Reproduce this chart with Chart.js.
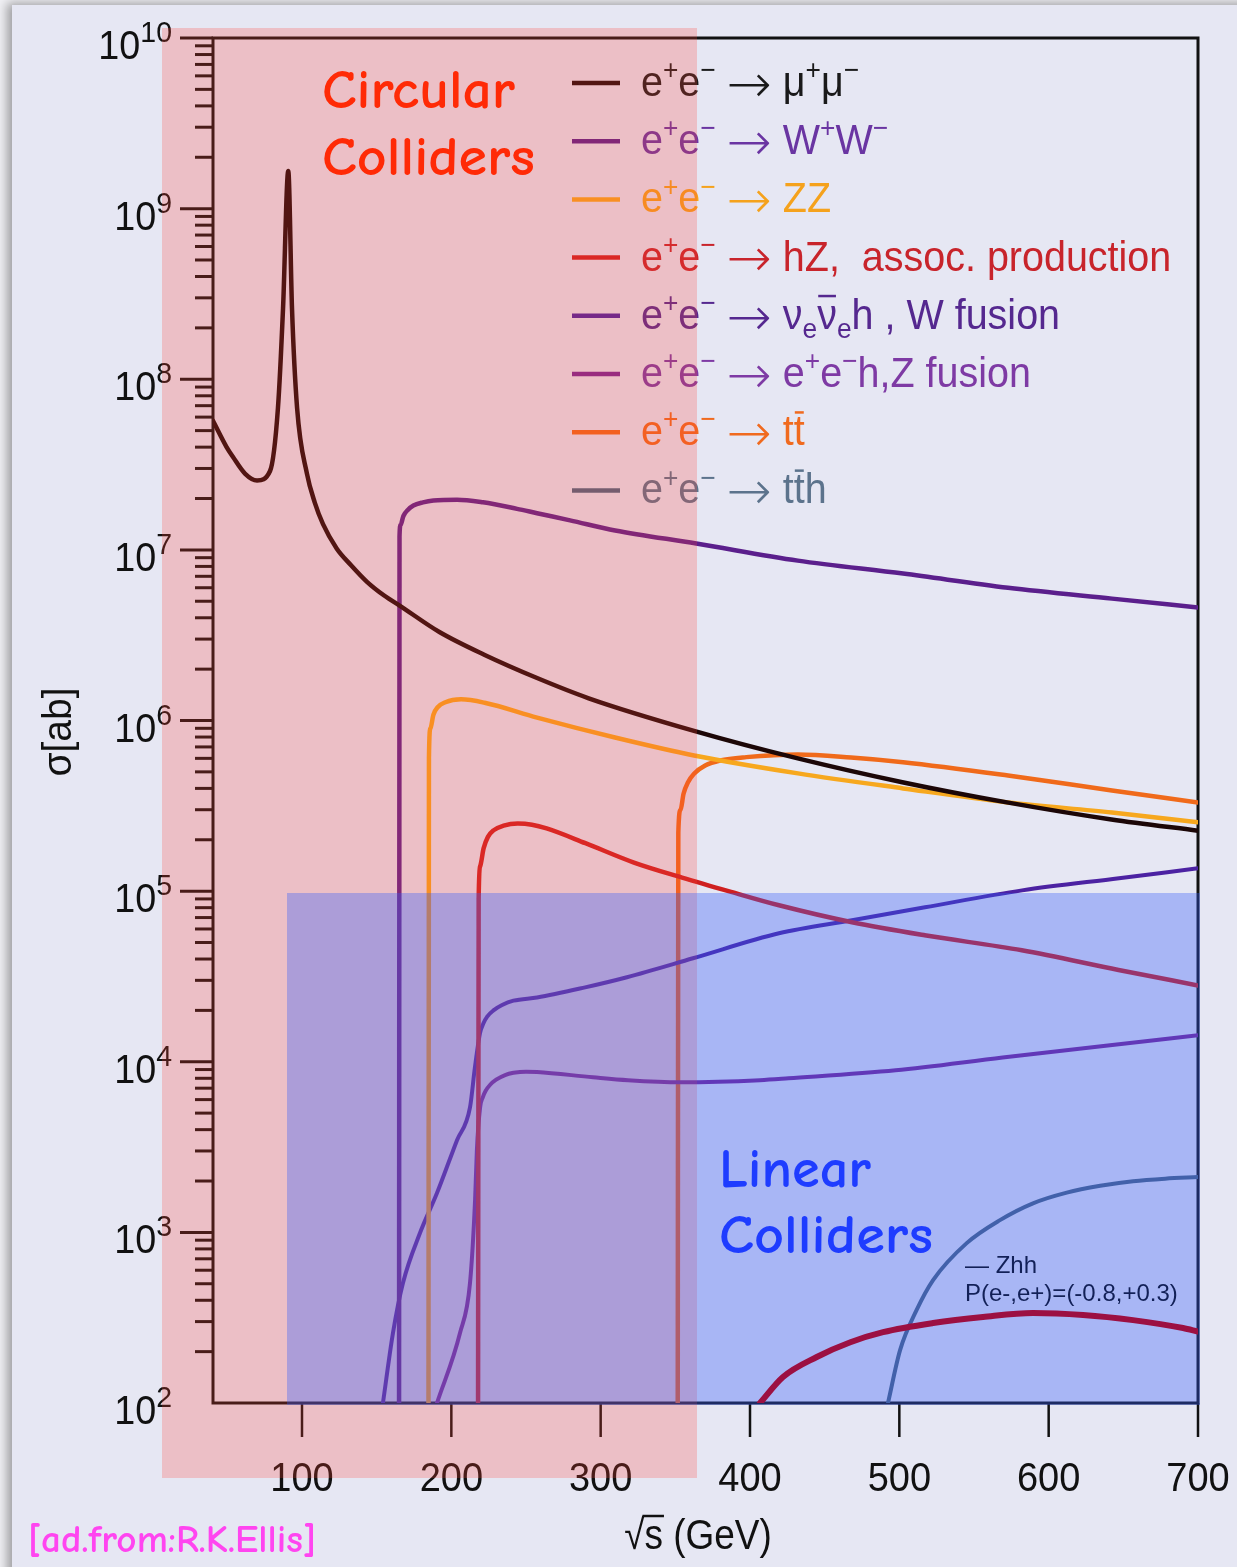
<!DOCTYPE html>
<html>
<head>
<meta charset="utf-8">
<title>e+e- cross sections</title>
<script src="https://cdn.jsdelivr.net/npm/chart.js@4/dist/chart.umd.min.js"></script>
<style>
  html, body { margin: 0; padding: 0; background: #f1f1f5; }
  #wrap { position: relative; width: 1237px; height: 1567px; overflow: hidden; }
  #panel { position: absolute; left: 12px; top: 5px; width: 1240px; height: 1580px;
           background: #e6e7f3; box-shadow: -3px 0 10px 2px rgba(0,0,0,0.35); }
  #c { position: absolute; left: 0; top: 0; }
</style>
</head>
<body>
<div id="wrap"><div id="panel"></div><canvas id="c" width="1237" height="1567"></canvas></div>
<script>
// ---- cross sections sigma [ab] versus sqrt(s) [GeV] ----
const energyMuMu = [40.4, 49.5, 53.8, 61.8, 69.9, 78.6, 83.9, 87.3, 90.8, 93.3, 96.7, 103.3, 108.5, 114, 123.2, 133, 143.5, 155, 165.6, 192, 222, 257, 292, 362.5, 432, 502, 573, 642, 700];
const sigmaMuMu  = [5.7e7, 4.0e7, 3.5e7, 2.8e7, 2.55e7, 2.9e7, 6.8e7, 2.6e8, 1.66e9, 2.6e8, 6.8e7, 2.8e7, 1.9e7, 1.42e7, 1.02e7, 8.1e6, 6.5e6, 5.4e6, 4.7e6, 3.3e6, 2.43e6, 1.78e6, 1.35e6, 8.7e5, 6.0e5, 4.35e5, 3.3e5, 2.63e5, 2.26e5];

const energyWW = [165.0, 165.3, 166.0, 167.9, 171, 174.6, 181, 188, 203.8, 221.2, 244, 257.4, 279.5, 309.7, 364, 432, 502.5, 572.8, 642.4, 700];
const sigmaWW  = [100, 1.2e7, 1.4e7, 1.58e7, 1.72e7, 1.82e7, 1.9e7, 1.95e7, 1.97e7, 1.9e7, 1.74e7, 1.64e7, 1.49e7, 1.3e7, 1.09e7, 8.65e6, 7.26e6, 6.0e6, 5.18e6, 4.6e6];

const energyZZ = [184.7, 185.0, 186.0, 188.0, 191.0, 196.0, 206.5, 222.3, 257.4, 309.6, 362.5, 432.1, 502.5, 572.8, 642.4, 700];
const sigmaZZ  = [100, 6.0e5, 9.0e5, 1.08e6, 1.2e6, 1.28e6, 1.33e6, 1.27e6, 1.04e6, 7.95e5, 6.24e5, 4.9e5, 4.0e5, 3.31e5, 2.89e5, 2.53e5];

const energyHZ = [217.9, 218.3, 219.3, 221.6, 224.5, 228.2, 235, 244.5, 254, 263.8, 289.8, 322.3, 354.5, 387.3, 419.4, 468.3, 517, 582, 646.8, 700];
const sigmaHZ  = [100, 9e4, 1.4e5, 1.78e5, 2.08e5, 2.27e5, 2.42e5, 2.49e5, 2.45e5, 2.33e5, 1.91e5, 1.47e5, 1.2e5, 9.9e4, 8.26e4, 6.57e4, 5.51e4, 4.5e4, 3.45e4, 2.8e4];

const energyNNH = [154.2, 160.9, 167.6, 179, 190.4, 203.8, 212.5, 215.8, 219.2, 221.5, 224, 228.2, 234, 241.6, 257.4, 289.6, 317.6, 361.8, 419.4, 468.3, 517.2, 582.2, 647.1, 700];
const sigmaNNH  = [100, 257, 505, 991, 1700, 3470, 5400, 9290, 1.47e4, 1.68e4, 1.84e4, 2.0e4, 2.15e4, 2.28e4, 2.38e4, 2.73e4, 3.13e4, 4.04e4, 5.66e4, 6.75e4, 8.04e4, 1.01e5, 1.19e5, 1.36e5];

const energyEEH = [190.4, 205.8, 212.5, 215.9, 217.1, 219.3, 221, 223, 226, 230, 236, 241.6, 250, 257.4, 294.9, 318.3, 353.8, 406.7, 425.8, 497.5, 569.2, 641.1, 700];
const sigmaEEH  = [100, 257, 505, 1545, 3030, 5430, 6170, 6760, 7330, 7850, 8360, 8610, 8750, 8710, 8110, 7800, 7590, 7800, 8000, 8910, 1.06e4, 1.25e4, 1.43e4];

const energyTT = [351.6, 352.0, 353.5, 355.5, 358.5, 362.5, 370, 380, 397.5, 432, 467.6, 502.5, 572.8, 642.4, 700];
const sigmaTT  = [100, 2.2e5, 3.0e5, 3.72e5, 4.35e5, 4.88e5, 5.45e5, 5.83e5, 6.1e5, 6.32e5, 6.07e5, 5.7e5, 4.76e5, 3.89e5, 3.31e5];

const energyTTH = [492.4, 500.5, 511.6, 522.6, 545.1, 567.4, 589.5, 612.1, 634.5, 656.5, 678, 700];
const sigmaTTH  = [100, 204, 351, 525, 865, 1180, 1480, 1710, 1875, 1995, 2065, 2110];

const energyZHH = [406.7, 422.1, 444.7, 467.2, 489.1, 522.6, 556, 589.5, 623, 656.5, 690, 700];
const sigmaZHH  = [100, 142, 186, 227, 260, 294, 319, 337, 328, 306, 275, 262];

// legend entries: ^{..} superscript, _{..} subscript, ~{..} overbar
const legendLabels = [
  'e^{+}e^{\u2212} \u2192 \u03bc^{+}\u03bc^{\u2212}',
  'e^{+}e^{\u2212} \u2192 W^{+}W^{\u2212}',
  'e^{+}e^{\u2212} \u2192 ZZ',
  'e^{+}e^{\u2212} \u2192 hZ,  assoc. production',
  'e^{+}e^{\u2212} \u2192 \u03bd_{e}~{\u03bd}_{e}h , W fusion',
  'e^{+}e^{\u2212} \u2192 e^{+}e^{\u2212}h,Z fusion',
  'e^{+}e^{\u2212} \u2192 t~{t}',
  'e^{+}e^{\u2212} \u2192 t~{t}h'
];

const xTickValues = [100, 200, 300, 400, 500, 600, 700];
const yTickExponents = [2, 3, 4, 5, 6, 7, 8, 9, 10];
const xAxisTitle = '\u221as (GeV)';
const yAxisTitle = '\u03c3[ab]';
const zhhNote = ['\u2014 Zhh', 'P(e-,e+)=(-0.8,+0.3)'];
const regionTitles = { circular: ['Circular', 'Colliders'], linear: ['Linear', 'Colliders'] };
const creditText = '[ad.from:R.K.Ellis]';

// ---- styling ----
const styles = [
  { e: energyMuMu, s: sigmaMuMu, color: '#1c0707', text: '#1a1a1a', width: 4.5 },
  { e: energyWW,   s: sigmaWW,   color: '#5b1f8c', text: '#6a35a2', width: 4.5 },
  { e: energyZZ,   s: sigmaZZ,   color: '#f7a81e', text: '#f5a21c', width: 4.5 },
  { e: energyHZ,   s: sigmaHZ,   color: '#cf2020', text: '#c8242b', width: 4.5 },
  { e: energyNNH,  s: sigmaNNH,  color: '#4c22a2', text: '#55288f', width: 4 },
  { e: energyEEH,  s: sigmaEEH,  color: '#7a2596', text: '#7e3aa4', width: 4 },
  { e: energyTT,   s: sigmaTT,   color: '#f06a1a', text: '#f06a1e', width: 4.5 },
  { e: energyTTH,  s: sigmaTTH,  color: '#4a6480', text: '#5c738c', width: 4 }
];
const INK = '#111111';
const SANS = '"Liberation Sans", Arial, Helvetica, sans-serif';
const ARROW_FONT = '"DejaVu Sans", sans-serif';
const HAND = '"Comic Sans MS", "Comic Neue", Lato, sans-serif';

const datasets = styles.map(st => ({
  data: st.e.map((x, i) => ({ x, y: st.s[i] })),
  borderColor: st.color,
  borderWidth: st.width,
  order: 0
}));
datasets.push({
  data: energyZHH.map((x, i) => ({ x, y: sigmaZHH[i] })),
  borderColor: '#9c1042',
  borderWidth: 6,
  order: -1
});

function parseRich(s) {
  const out = [];
  const re = /([\^_~])\{([^}]*)\}|(\u2192)|([^\^_~\u2192]+)/g;
  let m;
  while ((m = re.exec(s))) {
    if (m[4]) out.push([m[4], '']);
    else if (m[3]) out.push([m[3], 'arrow']);
    else out.push([m[2], m[1] === '^' ? 'sup' : m[1] === '_' ? 'sub' : 'bar']);
  }
  return out;
}

function drawRich(ctx, str, x, y, color, main, small, sx) {
  let cx = x;
  ctx.fillStyle = color; ctx.strokeStyle = color;
  for (const [t, kind] of parseRich(str)) {
    let dy = 0, scale = sx;
    if (kind === 'arrow') {
      ctx.font = '200 ' + Math.round(main * 1.28) + 'px ' + ARROW_FONT;
      dy = main * 0.14; scale = 1;
    } else {
      const size = (kind === 'sup' || kind === 'sub') ? small : main;
      ctx.font = size + 'px ' + SANS;
      dy = kind === 'sup' ? -main * 0.40 : kind === 'sub' ? main * 0.22 : 0;
    }
    const w = ctx.measureText(t).width * scale;
    ctx.save(); ctx.translate(cx, y + dy); ctx.scale(scale, 1); ctx.fillText(t, 0, 0); ctx.restore();
    if (kind === 'bar') {
      ctx.lineWidth = 2.5;
      ctx.beginPath(); ctx.moveTo(cx + 1, y - main * 0.78); ctx.lineTo(cx + w - 1, y - main * 0.78); ctx.stroke();
    }
    cx += w;
  }
  return cx;
}

function textScaled(ctx, t, x, y, sx, align) {
  const w = ctx.measureText(t).width * sx;
  const x0 = align === 'center' ? x - w / 2 : align === 'right' ? x - w : x;
  ctx.save(); ctx.translate(x0, y); ctx.scale(sx, 1); ctx.fillText(t, 0, 0); ctx.restore();
  return w;
}

function fitText(ctx, t, x, y, width, size, family, color) {
  ctx.font = '600 ' + size + 'px ' + family;
  const w = ctx.measureText(t).width;
  ctx.fillStyle = color;
  ctx.save(); ctx.translate(x, y); ctx.scale(width / w, 1); ctx.fillText(t, 0, 0); ctx.restore();
}

function line(ctx, x1, y1, x2, y2) {
  ctx.beginPath(); ctx.moveTo(x1, y1); ctx.lineTo(x2, y2); ctx.stroke();
}

const decor = {
  id: 'decor',
  beforeDatasetsDraw(chart) {
    const { ctx, chartArea: a, scales: { x, y } } = chart;
    ctx.save();
    ctx.textBaseline = 'alphabetic';
    // frame
    ctx.strokeStyle = INK; ctx.lineWidth = 3; ctx.lineCap = 'butt';
    ctx.strokeRect(a.left, a.top, a.right - a.left, a.bottom - a.top);
    // y ticks: decades and 2..9 subdivisions
    yTickExponents.forEach(ex => {
      for (let m = 1; m <= 9; m++) {
        const v = m * Math.pow(10, ex);
        if (v > y.max * 1.0001) break;
        if (m === 1 && ex === yTickExponents[0]) continue;
        const py = y.getPixelForValue(v);
        line(ctx, a.left - (m === 1 ? 33 : 18), py, a.left, py);
      }
    });
    // y tick labels 10^n
    ctx.fillStyle = INK;
    yTickExponents.forEach(ex => {
      const py = y.getPixelForValue(Math.pow(10, ex));
      ctx.font = '30px ' + SANS;
      const ws = textScaled(ctx, String(ex), 172, py + 4, 0.95, 'right');
      ctx.font = '41px ' + SANS;
      textScaled(ctx, '10', 172 - ws, py + 21, 0.92, 'right');
    });
    // x ticks and labels
    ctx.lineWidth = 2.5;
    ctx.font = '40px ' + SANS;
    xTickValues.forEach(v => {
      const px = x.getPixelForValue(v);
      line(ctx, px, a.bottom, px, a.bottom + 34);
      textScaled(ctx, String(v), px, a.bottom + 88, 0.95, 'center');
    });
    // axis titles
    ctx.font = '42px ' + SANS;
    const tw = textScaled(ctx, xAxisTitle, 698, 1549, 0.88, 'center');
    const rw = ctx.measureText('\u221a').width * 0.88;
    const sw = ctx.measureText('s').width * 0.88;
    ctx.lineWidth = 2.5;
    line(ctx, 698 - tw / 2 + rw - 2, 1549 - 33, 698 - tw / 2 + rw + sw + 1, 1549 - 33);
    ctx.save();
    ctx.translate(71, 732); ctx.rotate(-Math.PI / 2);
    ctx.font = '41px ' + SANS;
    textScaled(ctx, yAxisTitle, 0, 0, 0.95, 'center');
    ctx.restore();
    // legend
    styles.forEach((st, i) => {
      const ly = 83 + i * 58.2;
      ctx.strokeStyle = st.color; ctx.lineWidth = 4.5;
      line(ctx, 572, ly, 620, ly);
      drawRich(ctx, legendLabels[i], 641, ly + 13, st.text, 42, 28, 0.94);
    });
    // Zhh note
    ctx.fillStyle = '#000000';
    ctx.font = '24px ' + SANS;
    ctx.fillText(zhhNote[0], 965, 1273);
    ctx.fillText(zhhNote[1], 965, 1301);
    ctx.restore();
  },
  afterDatasetDraw(chart, args) {
    if (args.index !== 0) return;
    const { ctx, chartArea: a } = chart;
    ctx.save();
    ctx.fillStyle = 'rgba(255, 68, 55, 0.24)';
    ctx.fillRect(162, 28, 697 - 162, 1478 - 28);
    ctx.fillStyle = 'rgba(53, 91, 249, 0.35)';
    ctx.fillRect(287, 893, a.right + 2 - 287, a.bottom + 2 - 893);
    ctx.restore();
  },
  afterDraw(chart) {
    const { ctx } = chart;
    ctx.save();
    fitText(ctx, regionTitles.circular[0], 322, 108, 193, 55, HAND, '#ff2a06');
    fitText(ctx, regionTitles.circular[1], 322, 175, 213, 55, HAND, '#ff2a06');
    fitText(ctx, regionTitles.linear[0], 719, 1187, 152, 55, HAND, '#1e3cff');
    fitText(ctx, regionTitles.linear[1], 719, 1253, 214, 55, HAND, '#1e3cff');
    fitText(ctx, creditText, 28, 1552, 288, 38, HAND, '#ff45f0');
    ctx.restore();
  }
};

new Chart(document.getElementById('c'), {
  type: 'line',
  data: { datasets },
  options: {
    responsive: false,
    animation: false,
    devicePixelRatio: 1,
    events: [],
    layout: { padding: { left: 213, right: 39, top: 38, bottom: 164 } },
    scales: {
      x: { type: 'linear', min: 40.4, max: 700, display: false },
      y: { type: 'logarithmic', min: 100, max: 1e10, display: false }
    },
    elements: {
      point: { radius: 0 },
      line: { cubicInterpolationMode: 'monotone', borderCapStyle: 'round', borderJoinStyle: 'round', fill: false }
    },
    plugins: { legend: { display: false }, tooltip: { enabled: false } }
  },
  plugins: [decor]
});
</script>
</body>
</html>
